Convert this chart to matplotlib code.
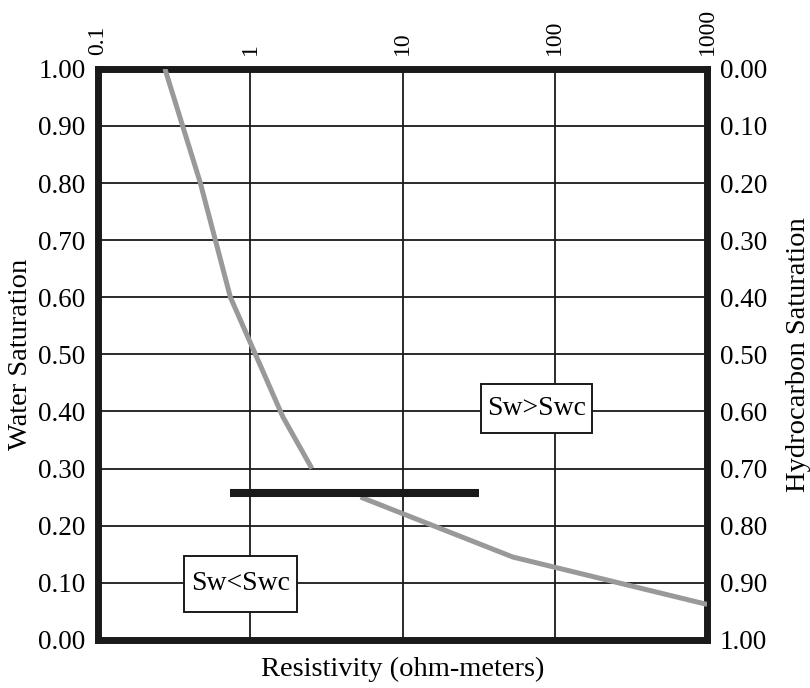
import matplotlib.pyplot as plt
from matplotlib.patches import Rectangle

plt.rcParams['font.family'] = ['Liberation Serif', 'DejaVu Serif']

# data
x_ticks = [0.1, 1, 10, 100, 1000]
x_tick_labels = ['0.1', '1', '10', '100', '1000']
sw_ticks = [0.0, 0.1, 0.2, 0.3, 0.4, 0.5, 0.6, 0.7, 0.8, 0.9, 1.0]

# upper branch of the curve (Sw > Swc)
upper_res = [0.275, 0.47, 0.74, 1.64, 2.54]
upper_sw = [1.00, 0.80, 0.60, 0.39, 0.30]

# lower branch of the curve (Sw < Swc)
lower_res = [5.3, 53, 1000]
lower_sw = [0.25, 0.145, 0.062]

# critical water saturation line
swc_res = [0.74, 32]
swc_sw = [0.257, 0.257]

fig = plt.figure(figsize=(8.1, 6.88), dpi=100)
ax = fig.add_axes([0.121, 0.070, 0.752, 0.830])

ax.plot(upper_res, upper_sw, color='#999999', lw=3.6, solid_capstyle='butt', zorder=3)
ax.plot(lower_res, lower_sw, color='#999999', lw=3.6, solid_capstyle='butt', zorder=3)
ax.plot(swc_res, swc_sw, color='#1a1a1a', lw=5.8, solid_capstyle='butt', zorder=4)

ax.set_xscale('log')
ax.set_xlim(0.1, 1000)
ax.set_ylim(0, 1)
ax.set_xticks(x_ticks)
ax.set_xticklabels(x_tick_labels)
ax.minorticks_off()
ax.set_yticks(sw_ticks)
ax.set_yticklabels([f'{v:.2f}' for v in sw_ticks])
ax.grid(True, color='#1a1a1a', lw=1.3)
ax.set_axisbelow(True)

ax.xaxis.tick_top()
ax.xaxis.set_label_position('bottom')
ax.tick_params(axis='x', length=0, labelsize=17, labelrotation=90, pad=10)
ax.tick_params(axis='y', length=0, labelsize=19.5, pad=9)
ax.set_xlabel('Resistivity (ohm-meters)', fontsize=20.5, labelpad=12)
ax.set_ylabel('Water Saturation', fontsize=20.5, labelpad=4)

for s in ax.spines.values():
    s.set_linewidth(5)
    s.set_color('#1a1a1a')

ax2 = ax.twinx()
ax2.set_ylim(1, 0)
ax2.set_yticks(sw_ticks)
ax2.set_yticklabels([f'{v:.2f}' for v in sw_ticks])
ax2.tick_params(axis='y', length=0, labelsize=19.5, pad=9)
ax2.set_ylabel('Hydrocarbon Saturation', fontsize=20.5, labelpad=14)
for s in ax2.spines.values():
    s.set_visible(False)

# label boxes
ax.add_patch(Rectangle((32.8, 0.3625), 175 - 32.8, 0.448 - 0.3625,
                       fc='white', ec='#1a1a1a', lw=1.4, zorder=5))
ax.text(75.5, 0.405, 'Sw>Swc', fontsize=20, ha='center', va='center', zorder=6)
ax.add_patch(Rectangle((0.367, 0.049), 2.02 - 0.367, 0.147 - 0.049,
                       fc='white', ec='#1a1a1a', lw=1.4, zorder=5))
ax.text(0.86, 0.098, 'Sw<Swc', fontsize=20, ha='center', va='center', zorder=6)

fig.savefig('out.png', dpi=100)
